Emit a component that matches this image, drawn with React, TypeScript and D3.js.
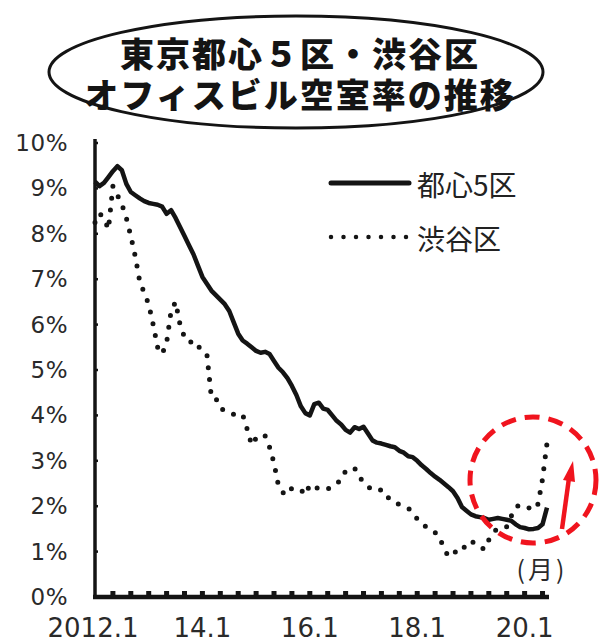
import React from "react";
import * as d3 from "d3";

// monthly vacancy rate (%), Jan 2012 .. Jun 2020
const toshin5 = [
  9.15, 9.05, 9.12, 9.25, 9.38, 9.49, 9.4, 9.1, 8.92, 8.85,
  8.78, 8.72, 8.68, 8.66, 8.64, 8.6, 8.44, 8.52, 8.35, 8.15,
  7.95, 7.75, 7.55, 7.3, 7.05, 6.9, 6.75, 6.65, 6.55, 6.45,
  6.3, 6.05, 5.8, 5.65, 5.58, 5.5, 5.42, 5.38, 5.4, 5.35,
  5.2, 5.05, 4.95, 4.82, 4.65, 4.45, 4.2, 4.05, 4.0, 4.25,
  4.28, 4.15, 4.12, 4.0, 3.88, 3.8, 3.68, 3.62, 3.74, 3.7,
  3.75, 3.6, 3.45, 3.4, 3.38, 3.35, 3.32, 3.3, 3.22, 3.18,
  3.1, 3.08, 3.0, 2.9, 2.82, 2.73, 2.65, 2.58, 2.5, 2.42,
  2.33, 2.18, 1.98, 1.9, 1.82, 1.78, 1.76, 1.74, 1.7, 1.72,
  1.74, 1.72, 1.7, 1.68, 1.6, 1.54, 1.52, 1.49, 1.5, 1.52,
  1.6, 1.97,
];

const shibuya = [
  8.25, 8.45, 8.35, 8.1, 9.05, 8.85, 8.65, 8.35, 7.95, 7.5,
  6.95, 6.7, 6.45, 6.0, 5.5, 5.35, 5.6, 6.3, 6.5, 6.0,
  5.72, 5.7, 5.5, 5.52, 5.45, 5.35, 4.4, 4.38, 4.16, 4.1,
  4.08, 4.02, 4.0, 4.02, 3.7, 3.35, 3.5, 3.58, 3.55, 3.3,
  2.95, 2.45, 2.3, 2.25, 2.4, 2.38, 2.36, 2.25, 2.47, 2.4,
  2.4, 2.36, 2.38, 2.42, 2.5, 2.58, 2.78, 2.82, 2.84, 2.66,
  2.52, 2.42, 2.38, 2.33, 2.36, 2.2, 2.18, 2.1, 2.03, 2.0,
  1.96, 1.85, 1.72, 1.6, 1.55, 1.5, 1.42, 1.32, 1.05, 0.9,
  1.0, 0.98, 0.99, 1.2, 1.22, 1.19, 1.1, 1.05, 1.26, 1.42,
  1.52, 1.54, 1.55, 1.78, 1.98, 2.03, 2.0, 1.96, 1.92, 2.05,
  2.6, 3.39,
];

const yTicks = [0, 1, 2, 3, 4, 5, 6, 7, 8, 9, 10];
const xLabelMonths = [0, 24, 48, 72, 96];
const xLabels = ["2012.1", "14.1", "16.1", "18.1", "20.1"];
const legendNames = ["都心5区", "渋谷区"];
const titleLines = ["東京都心５区・渋谷区", "オフィスビル空室率の推移"];

const W = 603;
const H = 642;
const ink = "#141414";
const red = "#f0141e";

export default function App() {
  const x = d3.scaleLinear().domain([0, 101]).range([95, 547]);
  const y = d3.scaleLinear().domain([0, 10]).range([597, 143]);

  const line = d3
    .line<number>()
    .x((_, i) => x(i))
    .y((d) => y(d));

  // small bumps on the x axis every 4 months
  const xTickMonths = d3.range(4, 101, 4);

  return (
    <svg
      width={W}
      height={H}
      style={{ position: "absolute", left: 0, top: 0, background: "#fff" }}
    >
      {/* title */}
      <ellipse cx={296} cy={72} rx={247} ry={56} fill="none" stroke={ink} strokeWidth={3} />
      {titleLines.map((t, i) => (
        <text
          key={t}
          x={300}
          y={52 + i * 41}
          textAnchor="middle"
          dominantBaseline="central"
          fontFamily="'Noto Sans CJK JP', sans-serif"
          fontWeight={900}
          fontSize={34}
          letterSpacing={2}
          fill={ink}
        >
          {t}
        </text>
      ))}

      {/* y axis */}
      <line x1={95} x2={95} y1={139} y2={599} stroke={ink} strokeWidth={3.5} />
      {yTicks.map((t) => (
        <g key={t}>
          <line x1={95} x2={98} y1={y(t)} y2={y(t)} stroke={ink} strokeWidth={2.5} />
          <text
            x={68}
            y={y(t)}
            textAnchor="end"
            dominantBaseline="central"
            fontFamily="'DejaVu Sans', sans-serif"
            fontSize={23}
            letterSpacing={0.5}
            fill="#2a2a2a"
          >
            {t}%
          </text>
        </g>
      ))}

      {/* x axis */}
      <line x1={93} x2={549} y1={597} y2={597} stroke={ink} strokeWidth={4.5} />
      {xTickMonths.map((m) => (
        <rect key={m} x={x(m) - 2.5} y={591} width={5} height={5} fill={ink} />
      ))}
      {xLabelMonths.map((m, i) => (
        <text
          key={m}
          x={i === 0 ? x(m) - 2 : x(m)}
          y={637}
          textAnchor="middle"
          fontFamily="'DejaVu Sans', sans-serif"
          fontSize={26}
          fill="#2a2a2a"
        >
          {xLabels[i]}
        </text>
      ))}

      {/* series */}
      <path
        d={line(shibuya) ?? ""}
        fill="none"
        stroke={ink}
        strokeWidth={5}
        strokeLinecap="round"
        strokeDasharray="0 12"
      />
      <path
        d={line(toshin5) ?? ""}
        fill="none"
        stroke={ink}
        strokeWidth={4.5}
        strokeLinejoin="round"
      />

      {/* legend */}
      <line x1={331} x2={409} y1={183} y2={183} stroke={ink} strokeWidth={5} strokeLinecap="round" />
      <line
        x1={331}
        x2={409}
        y1={237}
        y2={237}
        stroke={ink}
        strokeWidth={4.5}
        strokeLinecap="round"
        strokeDasharray="0 12.5"
      />
      {legendNames.map((n, i) => (
        <text
          key={n}
          x={417}
          y={184 + i * 54}
          dominantBaseline="central"
          fontFamily="'Noto Sans CJK JP', sans-serif"
          fontSize={28}
          fill="#222"
        >
          {n}
        </text>
      ))}

      {/* unit */}
      <text
        x={542}
        y={568}
        textAnchor="middle"
        dominantBaseline="central"
        fontFamily="'Noto Sans CJK JP', sans-serif"
        fontSize={25}
        letterSpacing={3}
        fill="#2a2a2a"
      >
        (月)
      </text>

      {/* highlight */}
      <circle
        cx={533}
        cy={480}
        r={63}
        fill="none"
        stroke={red}
        strokeWidth={5}
        strokeDasharray="15 9"
      />
      <line x1={562} y1={529} x2={569} y2={478} stroke={red} strokeWidth={4.5} />
      <path d="M573,461 L563,480 L575,482 Z" fill={red} />
    </svg>
  );
}
